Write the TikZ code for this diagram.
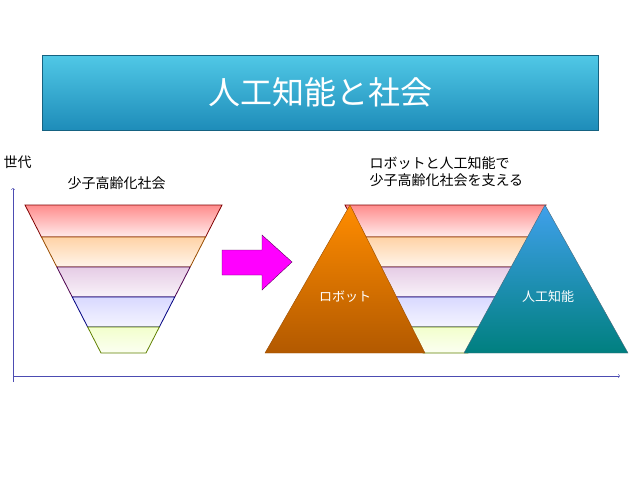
\documentclass[tikz,border=0pt]{standalone}
\usepackage{fontspec}
\setmainfont{Noto Sans CJK JP}
\usetikzlibrary{positioning}
\definecolor{titletop}{RGB}{80,200,230}
\definecolor{titlebot}{RGB}{30,140,185}
\definecolor{pinkarrow}{RGB}{255,0,255}
\begin{document}
\begin{tikzpicture}[x=1pt,y=-1pt,
  band/.style={line width=0.8pt},
  axis/.style={->,draw=blue!40!gray,line width=0.5pt},
  label/.style={font=\fontsize{14}{17}\selectfont,align=left,anchor=west}]
\useasboundingbox (0,0) rectangle (638,479);
% title
\node[draw=titlebot!70!black,top color=titletop,bottom color=titlebot,minimum width=556pt,minimum height=75pt,anchor=north west,text=white,font=\fontsize{32}{36}\selectfont] (title) at (42,55) {人工知能と社会};
% axes
\coordinate (o) at (13,376);
\coordinate (ytop) at (13,188);
\coordinate (xend) at (620,376);
\draw[axis] (13,382) -- (ytop);
\draw[axis] (o) -- (xend);
\node[label] (gen) at (0,162) {世代};
\node[label] (left) at (64,183) {少子高齢化社会};
\node[label] (right) at (366,172) {ロボットと人工知能で\\少子高齢化社会を支える};
% pyramids
\foreach \cx/\tw in {123.5/98.5, 445.5/100.5}{
  \foreach \ya/\yb/\fc/\lc/\ec in {205/237/red!45/red!8/red!50!black, 237/267/orange!35/orange!8/orange!60!black,
      267/297/violet!20/violet!5/violet!60!black, 297/327/blue!15/blue!4/blue!50!black, 327/353/lime!20/lime!5/lime!50!black}{
    \pgfmathsetmacro\wa{\tw-(\tw-22.5)*(\ya-205)/148}
    \pgfmathsetmacro\wb{\tw-(\tw-22.5)*(\yb-205)/148}
    \draw[band,draw=\ec,top color=\fc,bottom color=\lc]
      (\cx-\wa,\ya) -- (\cx+\wa,\ya) -- (\cx+\wb,\yb) -- (\cx-\wb,\yb) -- cycle;
  }
}
% arrow
\fill[pinkarrow,draw=violet!70!black] (222,250) -- (262,250) -- (262,235) -- (292,262) -- (262,290) -- (262,275) -- (222,275) -- cycle;
% triangles
\draw[draw=orange!60!black,top color=orange!90!yellow,bottom color=orange!70!black] (350,205) -- (425,353) -- (265,353) -- cycle;
\draw[draw=cyan!40!black,top color=titletop!80!blue,bottom color=cyan!50!black] (545,205) -- (628,353) -- (464,353) -- cycle;
\node[text=white,font=\fontsize{13}{15}\selectfont] (robot) at (345,297) {ロボット};
\node[text=white,font=\fontsize{13}{15}\selectfont] (ai) at (548,297) {人工知能};
\end{tikzpicture}
\end{document}
